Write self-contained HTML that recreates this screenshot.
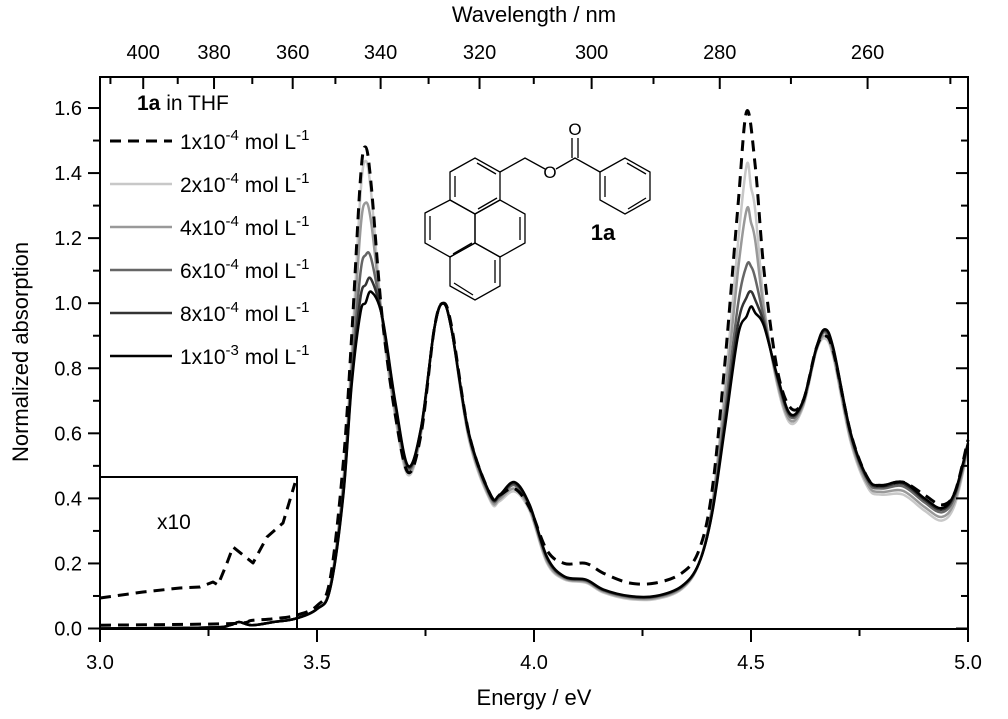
<!DOCTYPE html>
<html><head><meta charset="utf-8"><style>
html,body{margin:0;padding:0;background:#fff;}
svg{display:block;font-family:"Liberation Sans",Arial,sans-serif;}
</style></head><body>
<svg id="s" width="1008" height="719" viewBox="0 0 1008 719" xmlns="http://www.w3.org/2000/svg">
<rect width="1008" height="719" fill="#fff"/>
<g id="curves" fill="none" stroke-linejoin="round"></g>
<g id="axes" stroke="#000" stroke-width="2" fill="none"></g>
<g id="labels" font-size="20" fill="#000"></g>
<text x="534" y="705" font-size="22" text-anchor="middle">Energy / eV</text>
<text x="534" y="22" font-size="22" text-anchor="middle">Wavelength / nm</text>
<text transform="translate(28,352) rotate(-90)" font-size="22" text-anchor="middle">Normalized absorption</text>
<path d="M100,477 H297 V629" stroke="#000" stroke-width="2" fill="none"/>
<text x="157" y="529" font-size="21">x10</text>
<text x="137" y="110" font-size="21"><tspan font-weight="bold">1a</tspan> in THF</text>
<g id="legend" font-size="21"></g>
<g stroke="#000" stroke-width="1.3" fill="none">
<polygon points="450,172 475,158 500,172 500,200 475,214 450,200"/>
<polygon points="425,213 450,200 475,214 475,243 450,257 425,243"/>
<polygon points="475,214 500,200 525,214 525,243 500,257 475,243"/>
<polygon points="450,257 475,243 500,257 500,286 475,300 450,286"/>
<line x1="455" y1="176" x2="455" y2="197"/><line x1="477" y1="163" x2="496" y2="174"/><line x1="478" y1="209" x2="497" y2="198"/>
<line x1="430" y1="216" x2="430" y2="240"/><line x1="453" y1="254" x2="472" y2="243"/>
<line x1="520" y1="217" x2="520" y2="240"/>
<line x1="495" y1="260" x2="495" y2="283"/><line x1="454" y1="283" x2="473" y2="295"/>
<polyline points="500,172 525,158 545,169"/>
<polyline points="556,169 575,158 600,172"/>
<line x1="572" y1="158" x2="572" y2="138"/><line x1="578" y1="158" x2="578" y2="138"/>
<polygon points="600,172 625,158 650,172 650,200 625,214 600,200"/>
<line x1="605" y1="176" x2="605" y2="197"/><line x1="627" y1="163" x2="646" y2="174"/><line x1="628" y1="209" x2="646" y2="198"/>
</g>
<text x="550" y="178" font-size="17" text-anchor="middle">O</text>
<text x="575" y="135" font-size="17" text-anchor="middle">O</text>
<text x="603" y="240" font-size="22" font-weight="bold" text-anchor="middle">1a</text>
</svg>
<script>
var NS="http://www.w3.org/2000/svg";
function X(E){return 100+434*(E-3);}
function Y(v){return 628.5-325.3*v;}
function el(t,a,p,txt){var e=document.createElementNS(NS,t);for(var k in a)e.setAttribute(k,a[k]);if(txt!=null)e.textContent=txt;p.appendChild(e);return e;}
var B=[[3.0,0.0],[3.25,0.003],[3.3,0.01],[3.32,0.02],[3.35,0.01],[3.4,0.02],[3.45,0.03],[3.5,0.06],[3.53,0.12],[3.56,0.4],[3.58,0.75],[3.6,0.97],[3.625,1.035],[3.65,0.96],[3.68,0.7],[3.71,0.5],[3.74,0.62],[3.77,0.92],[3.79,1.0],[3.81,0.92],[3.85,0.6],[3.9,0.41],[3.92,0.41],[3.955,0.45],[3.99,0.38],[4.03,0.22],[4.07,0.16],[4.12,0.15],[4.16,0.12],[4.22,0.1],[4.28,0.1],[4.34,0.13],[4.38,0.2],[4.41,0.35],[4.44,0.62],[4.47,0.9],[4.5,0.99],[4.53,0.93],[4.56,0.78],[4.59,0.66],[4.62,0.7],[4.65,0.86],[4.67,0.92],[4.69,0.86],[4.73,0.6],[4.77,0.46],[4.8,0.44],[4.85,0.45],[4.9,0.4],[4.94,0.37],[4.97,0.42],[5.0,0.57]];
var L=[[3.0,0.0],[3.25,0.003],[3.3,0.01],[3.32,0.02],[3.35,0.01],[3.4,0.02],[3.45,0.03],[3.5,0.06],[3.53,0.13],[3.56,0.45],[3.58,0.85],[3.6,1.35],[3.612,1.46],[3.625,1.35],[3.65,0.95],[3.68,0.65],[3.71,0.47],[3.74,0.6],[3.77,0.92],[3.79,1.0],[3.81,0.92],[3.85,0.58],[3.9,0.39],[3.92,0.39],[3.955,0.42],[3.99,0.36],[4.03,0.2],[4.07,0.15],[4.12,0.14],[4.16,0.11],[4.22,0.09],[4.28,0.09],[4.34,0.12],[4.38,0.2],[4.41,0.38],[4.44,0.75],[4.47,1.2],[4.49,1.45],[4.51,1.3],[4.53,1.0],[4.56,0.75],[4.59,0.63],[4.62,0.68],[4.65,0.85],[4.67,0.89],[4.69,0.83],[4.73,0.57],[4.77,0.43],[4.8,0.41],[4.85,0.41],[4.9,0.36],[4.94,0.33],[4.97,0.38],[5.0,0.55]];
var D=[[3.0,0.01],[3.3,0.015],[3.35,0.025],[3.4,0.03],[3.45,0.04],[3.5,0.07],[3.53,0.15],[3.56,0.5],[3.58,0.9],[3.6,1.38],[3.612,1.48],[3.625,1.36],[3.65,0.96],[3.68,0.66],[3.71,0.48],[3.74,0.6],[3.77,0.92],[3.79,1.0],[3.81,0.93],[3.85,0.6],[3.9,0.41],[3.92,0.41],[3.955,0.43],[3.99,0.37],[4.03,0.24],[4.07,0.2],[4.12,0.2],[4.16,0.17],[4.22,0.14],[4.28,0.14],[4.34,0.17],[4.38,0.24],[4.41,0.42],[4.44,0.82],[4.47,1.3],[4.49,1.59],[4.51,1.42],[4.53,1.1],[4.56,0.8],[4.59,0.68],[4.62,0.7],[4.65,0.86],[4.67,0.9],[4.69,0.85],[4.73,0.6],[4.77,0.46],[4.8,0.44],[4.85,0.45],[4.9,0.41],[4.94,0.38],[4.97,0.42],[5.0,0.58]];
function spline(pts){var p=pts.map(function(a){return[X(a[0]),Y(a[1])];});var d="M"+p[0][0].toFixed(1)+","+p[0][1].toFixed(1);
for(var i=0;i<p.length-1;i++){var p0=p[i>0?i-1:i],p1=p[i],p2=p[i+1],p3=p[i+2<p.length?i+2:i+1];
var c1=[p1[0]+(p2[0]-p0[0])/6,p1[1]+(p2[1]-p0[1])/6],c2=[p2[0]-(p3[0]-p1[0])/6,p2[1]-(p3[1]-p1[1])/6];
d+=" C"+c1[0].toFixed(1)+","+c1[1].toFixed(1)+" "+c2[0].toFixed(1)+","+c2[1].toFixed(1)+" "+p2[0].toFixed(1)+","+p2[1].toFixed(1);}return d;}
function interp(arr,E){for(var i=0;i<arr.length-1;i++){if(E<=arr[i+1][0]){var a=arr[i],b=arr[i+1];var s=(E-a[0])/(b[0]-a[0]);return a[1]+s*(b[1]-a[1]);}}return arr[arr.length-1][1];}
var grid=[];B.concat(L).forEach(function(a){if(grid.indexOf(a[0])<0)grid.push(a[0]);});grid.sort(function(a,b){return a-b;});
function series(t){return grid.map(function(E){var l=interp(L,E),b=interp(B,E);return[E,l+t*(b-l)];});}
var cg=document.getElementById("curves");
var S=[[0.05,"#c8c8c8"],[0.33,"#999"],[0.68,"#666"],[0.88,"#333"],[1,"#000"]];
S.forEach(function(s){el("path",{d:spline(series(s[0])),stroke:s[1],"stroke-width":2.5},cg);});
el("path",{d:spline(D),stroke:"#000","stroke-width":3,"stroke-dasharray":"11,7"},cg);
el("path",{d:"M100,598 L143,592 L180,588 L200,587 L213,582 L218,585 L227,563 L233,547 L253,563 L267,537 L283,523 L295,483",stroke:"#000","stroke-width":3,"stroke-dasharray":"11,7"},cg);
var ax=document.getElementById("axes"),lb=document.getElementById("labels");
el("rect",{x:100,y:77,width:868,height:552},ax);
for(var k=0;k<=16;k++){var v=k/10,y=Y(v),maj=k%2==0;
el("line",{x1:100,y1:y,x2:maj?88:93,y2:y},ax);el("line",{x1:968,y1:y,x2:maj?956:961,y2:y},ax);
if(maj)el("text",{x:82,y:y+7,"text-anchor":"end"},lb,v.toFixed(1));}
for(var k=0;k<=8;k++){var E=3+k*0.25,x=X(E),maj=k%2==0;
el("line",{x1:x,y1:629,x2:x,y2:maj?642:636},ax);
if(maj)el("text",{x:x,y:669,"text-anchor":"middle"},lb,E.toFixed(1));}
for(var w=410;w>=250;w-=10){var E2=1239.84/w;if(E2<3||E2>5)continue;var x=X(E2),maj=w%20==0;
el("line",{x1:x,y1:77,x2:x,y2:maj?89:84},ax);
if(maj)el("text",{x:x,y:59,"text-anchor":"middle"},lb,String(w));}
var lg=document.getElementById("legend");
var items=[["1","-4","#000",1],["2","-4","#c8c8c8",0],["4","-4","#999",0],["6","-4","#666",0],["8","-4","#333",0],["1","-3","#000",0]];
items.forEach(function(it,i){var y=141+i*43;
var a={x1:110,y1:y,x2:172,y2:y,stroke:it[2],"stroke-width":it[3]?3:2.5};
if(it[3])a["stroke-dasharray"]="11,7";
el("line",a,lg);
var t=el("text",{x:180,y:y+8},lg);
t.appendChild(document.createTextNode(it[0]+"x10"));
el("tspan",{dy:-9,"font-size":15},t,it[1]);
el("tspan",{dy:9},t," mol L");
el("tspan",{dy:-9,"font-size":15},t,"-1");});
</script>
</body></html>
